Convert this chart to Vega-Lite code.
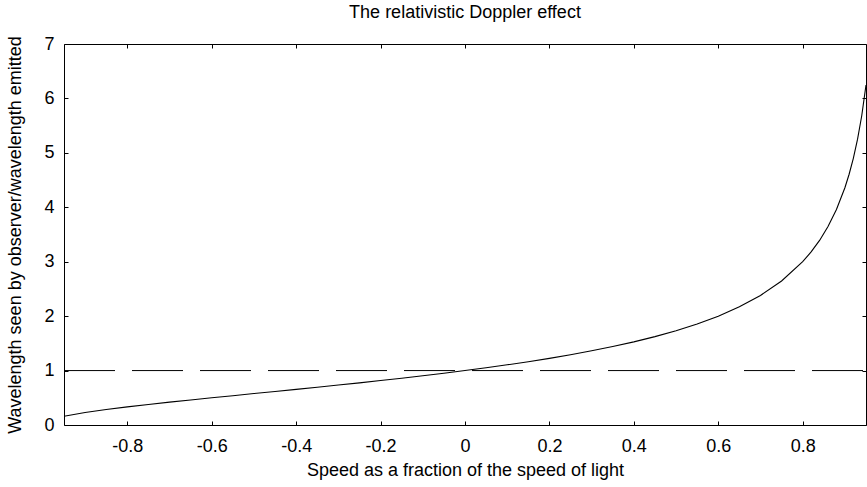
{
  "$schema": "https://vega.github.io/schema/vega-lite/v6.json",
  "width": 802,
  "height": 381,
  "autosize": {"type": "none"},
  "padding": {"left": 64, "top": 44, "right": 1, "bottom": 62},
  "background": "white",
  "title": {"text": "The relativistic Doppler effect", "font": "Liberation Sans", "fontSize": 18, "fontWeight": "normal", "color": "black", "anchor": "middle", "offset": 13},
  "config": {
    "view": {"stroke": "black", "strokeWidth": 1},
    "axis": {"labelFont": "Liberation Sans", "titleFont": "Liberation Sans", "labelFontSize": 18, "titleFontSize": 18, "titleFontWeight": "normal", "labelColor": "black", "titleColor": "black", "tickColor": "black", "tickWidth": 1, "grid": false, "domain": false}
  },
  "resolve": {"axis": {"x": "independent", "y": "independent"}},
  "layer": [
    {
      "data": {"values": [
        {"v": -0.95, "f": 0.1601}, {"v": -0.9, "f": 0.2294}, {"v": -0.85, "f": 0.2847}, {"v": -0.8, "f": 0.3333},
        {"v": -0.75, "f": 0.378}, {"v": -0.7, "f": 0.4201}, {"v": -0.65, "f": 0.4606}, {"v": -0.6, "f": 0.5},
        {"v": -0.55, "f": 0.5388}, {"v": -0.5, "f": 0.5774}, {"v": -0.45, "f": 0.6159}, {"v": -0.4, "f": 0.6547},
        {"v": -0.35, "f": 0.6939}, {"v": -0.3, "f": 0.7338}, {"v": -0.25, "f": 0.7746}, {"v": -0.2, "f": 0.8165},
        {"v": -0.15, "f": 0.8597}, {"v": -0.1, "f": 0.9045}, {"v": -0.05, "f": 0.9512}, {"v": 0, "f": 1},
        {"v": 0.05, "f": 1.0513}, {"v": 0.1, "f": 1.1055}, {"v": 0.15, "f": 1.1632}, {"v": 0.2, "f": 1.2247},
        {"v": 0.25, "f": 1.291}, {"v": 0.3, "f": 1.3628}, {"v": 0.35, "f": 1.4412}, {"v": 0.4, "f": 1.5275},
        {"v": 0.45, "f": 1.6237}, {"v": 0.5, "f": 1.7321}, {"v": 0.55, "f": 1.8559}, {"v": 0.6, "f": 2},
        {"v": 0.65, "f": 2.1712}, {"v": 0.7, "f": 2.3805}, {"v": 0.75, "f": 2.6458}, {"v": 0.8, "f": 3},
        {"v": 0.82, "f": 3.1798}, {"v": 0.84, "f": 3.3912}, {"v": 0.86, "f": 3.645}, {"v": 0.88, "f": 3.9581},
        {"v": 0.9, "f": 4.3589}, {"v": 0.91, "f": 4.6068}, {"v": 0.92, "f": 4.899}, {"v": 0.93, "f": 5.2509},
        {"v": 0.94, "f": 5.6862}, {"v": 0.95, "f": 6.245}
      ]},
      "mark": {"type": "line", "color": "black", "strokeWidth": 1.1, "clip": true},
      "encoding": {
        "x": {"field": "v", "type": "quantitative", "scale": {"domain": [-0.95, 0.95], "nice": false, "zero": false},
              "axis": {"orient": "bottom", "title": "Speed as a fraction of the speed of light", "values": [-0.8, -0.6, -0.4, -0.2, 0, 0.2, 0.4, 0.6, 0.8], "labelExpr": "'' + datum.value", "tickSize": -4, "labelPadding": 16, "titlePadding": 6}},
        "y": {"field": "f", "type": "quantitative", "scale": {"domain": [0, 7], "nice": false},
              "axis": {"orient": "left", "title": "Wavelength seen by observer/wavelength emitted", "values": [0, 1, 2, 3, 4, 5, 6, 7], "labelExpr": "'' + datum.value", "tickSize": -4, "labelPadding": 14, "titlePadding": 19}}
      }
    },
    {
      "data": {"values": [{"x": -0.95, "x2": 0.95, "y": 1}]},
      "mark": {"type": "rule", "color": "black", "strokeWidth": 1, "strokeDash": [51, 17]},
      "encoding": {
        "x": {"field": "x", "type": "quantitative", "axis": {"orient": "top", "title": null, "labels": false, "values": [-0.8, -0.6, -0.4, -0.2, 0, 0.2, 0.4, 0.6, 0.8], "tickSize": -4}},
        "x2": {"field": "x2"},
        "y": {"field": "y", "type": "quantitative", "axis": {"orient": "right", "title": null, "labels": false, "values": [0, 1, 2, 3, 4, 5, 6, 7], "tickSize": -4}}
      }
    }
  ]
}
